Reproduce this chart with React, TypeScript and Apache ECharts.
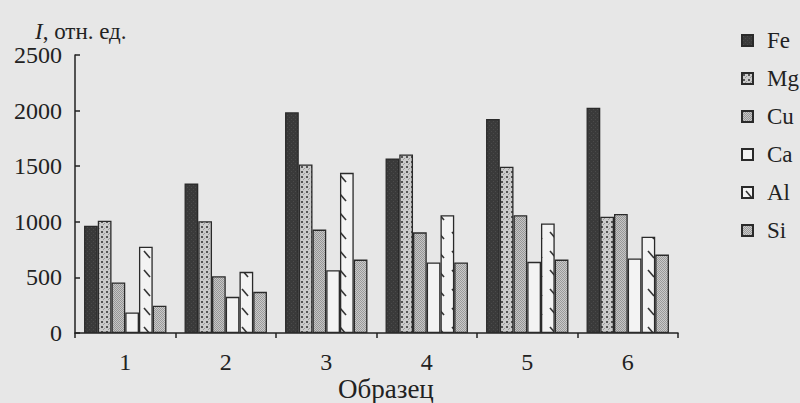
import React, { useEffect, useRef } from "react";
import * as echarts from "echarts";

const categories = ["1", "2", "3", "4", "5", "6"];
const seriesNames = ["Fe", "Mg", "Cu", "Ca", "Al", "Si"];
const feValues = [965, 1345, 1985, 1570, 1925, 2025];
const mgValues = [1010, 1005, 1515, 1605, 1495, 1045];
const cuValues = [455, 510, 930, 905, 1060, 1070];
const caValues = [185, 325, 565, 635, 640, 670];
const alValues = [775, 550, 1440, 1060, 985, 865];
const siValues = [245, 370, 660, 635, 660, 705];
const yTicks = [0, 500, 1000, 1500, 2000, 2500];

const FONT = "'Liberation Serif', 'DejaVu Serif', serif";

function makeTile(w: number, h: number, draw: (c: CanvasRenderingContext2D) => void) {
  const cv = document.createElement("canvas");
  cv.width = w;
  cv.height = h;
  const ctx = cv.getContext("2d")!;
  draw(ctx);
  return cv;
}

function buildPatterns() {
  const fe = makeTile(4, 4, (c) => {
    c.fillStyle = "#3a3a3a";
    c.fillRect(0, 0, 4, 4);
    c.fillStyle = "#4a4a4a";
    c.fillRect(1, 1, 1, 1);
    c.fillRect(3, 3, 1, 1);
  });
  const mg = makeTile(5, 5, (c) => {
    c.fillStyle = "#cbcbcb";
    c.fillRect(0, 0, 5, 5);
    c.fillStyle = "#555";
    c.fillRect(1, 1, 2, 2);
    c.fillStyle = "#9a9a9a";
    c.fillRect(4, 3, 1, 1);
    c.fillRect(3, 4, 1, 1);
  });
  const stipple = (light: string, dark: string) =>
    makeTile(2, 2, (c) => {
      c.fillStyle = light;
      c.fillRect(0, 0, 2, 2);
      c.fillStyle = dark;
      c.fillRect(0, 0, 1, 1);
      c.fillRect(1, 1, 1, 1);
    });
  const cu = stipple("#c6c6c6", "#969696");
  const si = stipple("#cacaca", "#9a9a9a");
  const al = makeTile(14, 19, (c) => {
    c.fillStyle = "#f3f3f3";
    c.fillRect(0, 0, 14, 19);
    c.strokeStyle = "#333";
    c.lineWidth = 1.6;
    c.beginPath();
    c.moveTo(4, 4);
    c.lineTo(10, 11);
    c.stroke();
  });
  return { fe, mg, cu, si, al };
}

export default function App() {
  const ref = useRef<HTMLDivElement>(null);

  useEffect(() => {
    if (!ref.current) return;
    const chart = echarts.init(ref.current, null, { renderer: "svg" });
    const p = buildPatterns();
    const fills: any[] = [
      { image: p.fe, repeat: "repeat" },
      { image: p.mg, repeat: "repeat" },
      { image: p.cu, repeat: "repeat" },
      "#f3f3f3",
      { image: p.al, repeat: "repeat" },
      { image: p.si, repeat: "repeat" },
    ];
    const values = [feValues, mgValues, cuValues, caValues, alValues, siValues];

    chart.setOption({
      animation: false,
      backgroundColor: "#e7e7e7",
      grid: { left: 75, right: 122, top: 55, bottom: 70 },
      legend: {
        orient: "vertical",
        left: 741,
        top: 29,
        padding: 0,
        itemWidth: 11,
        itemHeight: 11,
        itemGap: 15,
        icon: "rect",
        data: seriesNames,
        textStyle: {
          fontFamily: FONT,
          fontSize: 23,
          color: "#222",
          lineHeight: 23,
          padding: [0, 0, 0, 9],
        },
      },
      xAxis: {
        type: "category",
        data: categories,
        boundaryGap: true,
        axisLine: { show: true, lineStyle: { color: "#222", width: 1.5 } },
        axisTick: { show: true, length: 5, lineStyle: { color: "#222", width: 1.5 } },
        axisLabel: { fontFamily: FONT, fontSize: 24, color: "#222", margin: 17 },
        splitLine: { show: false },
      },
      yAxis: {
        type: "value",
        min: 0,
        max: 2500,
        interval: 500,
        axisLine: { show: true, lineStyle: { color: "#222", width: 1.5 } },
        axisTick: { show: true, inside: true, length: 5, lineStyle: { color: "#222", width: 1.5 } },
        axisLabel: {
          fontFamily: FONT,
          fontSize: 24,
          color: "#222",
          margin: 13,
          formatter: (v: number) => (yTicks.includes(v) ? String(v) : ""),
        },
        splitLine: { show: false },
      },
      graphic: [
        {
          type: "text",
          left: 35,
          top: 20,
          style: {
            text: "{i|I}, отн. ед.",
            rich: {
              i: { fontFamily: FONT, fontSize: 23, fontStyle: "italic", fill: "#222" },
            },
            fontFamily: FONT,
            fontSize: 23,
            fill: "#222",
          },
        },
        {
          type: "text",
          left: 338,
          top: 375,
          style: { text: "Образец", fontFamily: FONT, fontSize: 27, fill: "#222" },
        },
      ],
      series: seriesNames.map((name, i) => ({
        name,
        type: "bar",
        data: values[i],
        barGap: "0%",
        barCategoryGap: "18%",
        itemStyle: { color: fills[i], borderColor: "#2a2a2a", borderWidth: 1.3 },
      })),
    });
    return () => chart.dispose();
  }, []);

  return (
    <div
      ref={ref}
      style={{ position: "fixed", left: 0, top: 0, width: 800, height: 403 }}
    />
  );
}
